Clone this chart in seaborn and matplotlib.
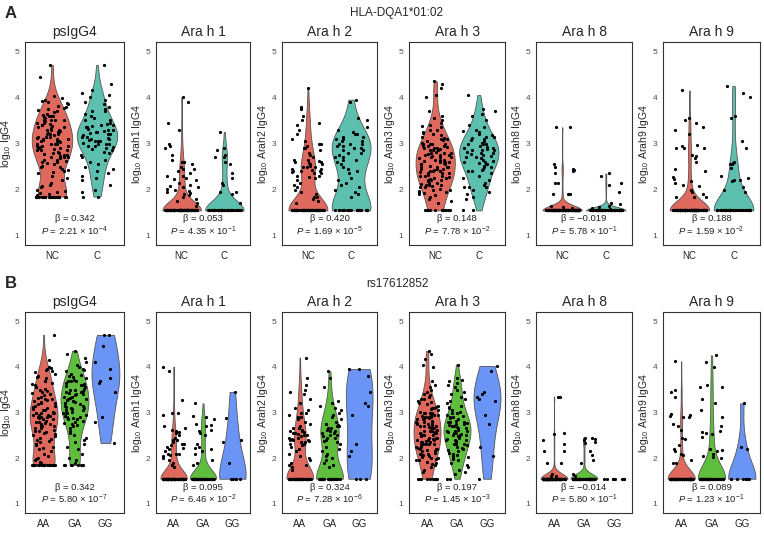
import numpy as np
import pandas as pd
import matplotlib
matplotlib.use("Agg")
import matplotlib.pyplot as plt
import seaborn as sns

# ---------------- DATA ----------------
cats_a = ["NC", "C"]
cats_b = ["AA", "GA", "GG"]
titles = ["psIgG4", "Ara h 1", "Ara h 2", "Ara h 3", "Ara h 8", "Ara h 9"]
ylabels = ["log$_{10}$ IgG4", "log$_{10}$ Arah1 IgG4", "log$_{10}$ Arah2 IgG4",
           "log$_{10}$ Arah3 IgG4", "log$_{10}$ Arah8 IgG4", "log$_{10}$ Arah9 IgG4"]
betas_a = ["0.342", "0.053", "0.420", "0.148", "\u22120.019", "0.188"]
pvals_a = [("2.21", "-4"), ("4.35", "-1"), ("1.69", "-5"), ("7.78", "-2"), ("5.78", "-1"), ("1.59", "-2")]
betas_b = ["0.342", "0.095", "0.324", "0.197", "\u22120.014", "0.089"]
pvals_b = [("5.80", "-7"), ("6.46", "-2"), ("7.28", "-6"), ("1.45", "-3"), ("5.80", "-1"), ("1.23", "-1")]

# Row A: HLA-DQA1*01:02
a_ps_nc = [1.85] * 22 + [4.70, 4.45, 4.02, 3.98, 3.95, 3.92, 3.90, 3.88, 3.85, 3.82, 3.80, 3.78, 3.75, 3.72, 3.70, 3.68,
    3.65, 3.62, 3.60, 3.60, 3.58, 3.55, 3.52, 3.50, 3.50, 3.48, 3.45, 3.42, 3.40, 3.40, 3.38, 3.35, 3.33, 3.30, 3.30,
    3.28, 3.25, 3.25, 3.22, 3.20, 3.20, 3.18, 3.15, 3.15, 3.12, 3.10, 3.10, 3.08, 3.05, 3.05, 3.03, 3.00, 3.00, 2.98,
    2.95, 2.95, 2.93, 2.90, 2.90, 2.88, 2.85, 2.85, 2.82, 2.80, 2.80, 2.78, 2.75, 2.75, 2.72, 2.70, 2.70, 2.68, 2.65,
    2.62, 2.60, 2.58, 2.55, 2.52, 2.50, 2.48, 2.45, 2.42, 2.40, 2.38, 2.35, 2.30, 2.25, 2.20, 2.15, 2.10, 2.08, 2.05,
    2.00, 1.98, 1.95, 1.92, 1.90, 1.88, 2.60, 2.90, 3.10, 3.30, 3.50, 3.00, 2.70, 3.20, 2.85, 3.45, 3.15, 2.95, 3.60,
    3.35, 3.05, 2.65]
a_ps_c = [4.70, 4.30, 4.15, 4.10, 4.05, 4.00, 3.95, 3.90, 3.85, 3.80, 3.75, 3.70, 3.70, 3.65, 3.60, 3.55, 3.50, 3.50,
    3.45, 3.42, 3.40, 3.38, 3.35, 3.32, 3.30, 3.30, 3.28, 3.25, 3.22, 3.20, 3.20, 3.18, 3.15, 3.12, 3.10, 3.10, 3.08,
    3.05, 3.05, 3.02, 3.00, 3.00, 2.98, 2.95, 2.92, 2.90, 2.88, 2.85, 2.82, 2.80, 2.75, 2.70, 2.65, 2.60, 2.55, 2.50,
    2.45, 2.40, 2.35, 2.30, 2.25, 2.20, 2.10, 2.00, 1.95, 1.85, 1.85, 3.15, 3.35, 2.95, 3.25, 3.05, 3.40]
a_h1_nc = [1.55] * 100 + [4.00, 3.90, 3.45, 3.30, 3.00, 2.95, 2.90, 2.75, 2.65, 2.60, 2.60, 2.55, 2.50, 2.45, 2.40,
    2.35, 2.30, 2.25, 2.22, 2.20, 2.10, 2.08, 2.05, 2.05, 2.02, 2.00, 1.98, 1.95, 1.92, 1.90, 1.88, 1.85, 1.80, 1.75,
    2.60, 2.30, 2.45, 2.15, 1.70, 1.65]
a_h1_c = [1.55] * 45 + [3.25, 2.90, 2.85, 2.75, 2.70, 2.70, 2.60, 2.55, 2.35, 2.25, 2.15, 2.10, 1.95, 1.95, 1.90, 1.70]
a_h2_nc = [1.55] * 70 + [4.20, 3.75, 3.60, 3.50, 3.45, 3.40, 3.30, 3.20, 3.10, 3.05, 3.00, 3.00, 2.95, 2.90, 2.85,
    2.80, 2.75, 2.70, 2.65, 2.62, 2.60, 2.58, 2.55, 2.52, 2.50, 2.48, 2.45, 2.42, 2.40, 2.40, 2.38, 2.35, 2.35, 2.30,
    2.28, 2.25, 2.20, 2.15, 2.10, 2.05, 2.00, 1.95, 1.90, 1.85, 1.85, 1.80, 1.75, 1.70, 2.55, 2.45, 2.65, 2.30, 2.50,
    2.40, 3.80, 2.90, 2.60]
a_h2_c = [1.55] * 22 + [3.95, 3.90, 3.55, 3.50, 3.30, 3.25, 3.20, 3.20, 3.15, 3.15, 3.10, 3.05, 3.00, 3.00, 2.98,
    2.95, 2.90, 2.90, 2.85, 2.80, 2.80, 2.75, 2.70, 2.70, 2.65, 2.60, 2.55, 2.50, 2.45, 2.40, 2.35, 2.25, 2.20, 2.15,
    2.10, 2.05, 2.00, 1.95, 1.90, 1.85, 3.10, 2.95, 3.05, 2.85, 2.65, 3.35]
a_h3_nc = [1.55] * 12 + [4.35, 4.30, 4.20, 4.05, 4.00, 3.70, 3.60, 3.55, 3.50, 3.45, 3.40, 3.38, 3.35, 3.30, 3.30,
    3.25, 3.22, 3.20, 3.18, 3.15, 3.12, 3.10, 3.10, 3.08, 3.05, 3.02, 3.00, 3.00, 2.98, 2.95, 2.95, 2.92, 2.90, 2.90,
    2.88, 2.85, 2.85, 2.82, 2.80, 2.80, 2.78, 2.75, 2.75, 2.72, 2.70, 2.70, 2.68, 2.65, 2.65, 2.62, 2.60, 2.60, 2.58,
    2.55, 2.55, 2.52, 2.50, 2.50, 2.48, 2.45, 2.45, 2.42, 2.40, 2.40, 2.38, 2.35, 2.35, 2.32, 2.30, 2.30, 2.28, 2.25,
    2.25, 2.22, 2.20, 2.20, 2.18, 2.15, 2.15, 2.12, 2.10, 2.10, 2.08, 2.05, 2.05, 2.02, 2.00, 2.00, 1.98, 1.95, 1.95,
    1.92, 1.90, 1.88, 1.85, 1.80, 1.75, 1.70, 2.60, 2.50, 2.40, 2.70, 2.30, 2.80, 2.20, 2.90, 2.55, 2.45, 2.65, 2.35,
    2.75, 2.10, 3.00, 2.85, 2.95]
a_h3_c = [4.05, 3.75, 3.70, 3.65, 3.60, 3.50, 3.40, 3.35, 3.30, 3.28, 3.25, 3.20, 3.18, 3.15, 3.12, 3.10, 3.08, 3.05,
    3.02, 3.00, 3.00, 2.98, 2.95, 2.92, 2.90, 2.88, 2.85, 2.85, 2.82, 2.80, 2.80, 2.78, 2.75, 2.72, 2.70, 2.68, 2.65,
    2.62, 2.60, 2.58, 2.55, 2.52, 2.50, 2.48, 2.45, 2.42, 2.40, 2.35, 2.30, 2.25, 2.20, 2.15, 2.10, 2.05, 2.05, 2.00,
    1.95, 1.90, 1.85, 1.80, 1.55, 1.55, 2.60, 2.70, 2.85, 2.90, 2.55, 3.15, 2.40, 2.05]
a_h8_nc = [1.55] * 140 + [3.35, 3.35, 2.55, 2.50, 2.45, 2.42, 2.40, 2.35, 2.15, 2.15, 1.90, 1.90, 1.90, 1.60, 1.62,
    1.65]
a_h8_c = [1.55] * 72 + [2.35, 2.30, 2.15, 2.10, 1.95, 1.58, 1.60, 1.62, 1.65, 1.68, 1.70]
a_h9_nc = [1.55] * 110 + [4.15, 3.55, 3.50, 3.45, 3.35, 3.30, 3.20, 2.97, 2.95, 2.90, 2.90, 2.90, 2.75, 2.72, 2.68,
    2.45, 2.40, 2.28, 2.22, 2.18, 2.15, 2.10, 2.08, 2.00, 1.95, 1.90, 1.85, 1.85, 1.85, 2.60]
a_h9_c = [1.55] * 45 + [4.25, 4.10, 4.00, 3.60, 3.55, 3.05, 2.90, 2.60, 2.58, 2.55, 2.55, 2.47, 2.30, 2.25, 2.20,
    2.20, 2.18, 2.05, 2.00, 1.95]

# Row B: rs17612852
b_ps_aa = [1.85] * 22 + [4.70, 4.15, 4.00, 3.98, 3.95, 3.92, 3.90, 3.88, 3.85, 3.80, 3.78, 3.75, 3.70, 3.68, 3.65,
    3.62, 3.60, 3.55, 3.52, 3.50, 3.48, 3.45, 3.42, 3.40, 3.38, 3.35, 3.32, 3.30, 3.28, 3.25, 3.22, 3.20, 3.18, 3.15,
    3.12, 3.10, 3.08, 3.05, 3.02, 3.00, 3.00, 2.98, 2.95, 2.95, 2.92, 2.90, 2.90, 2.88, 2.85, 2.85, 2.82, 2.80, 2.80,
    2.78, 2.75, 2.72, 2.70, 2.70, 2.68, 2.65, 2.62, 2.60, 2.58, 2.55, 2.52, 2.50, 2.48, 2.45, 2.42, 2.40, 2.38, 2.35,
    2.32, 2.30, 2.28, 2.25, 2.22, 2.20, 2.15, 2.10, 2.05, 2.00, 1.98, 1.95, 1.92, 1.90, 3.10, 3.20, 2.90, 3.00, 2.75,
    3.30, 2.60, 3.40, 2.85, 3.05, 2.95, 3.15, 2.65, 3.55]
b_ps_ga = [1.85] * 8 + [4.35, 4.28, 4.20, 4.10, 4.05, 4.00, 3.95, 3.92, 3.90, 3.85, 3.82, 3.80, 3.78, 3.75, 3.72,
    3.70, 3.68, 3.65, 3.62, 3.60, 3.58, 3.55, 3.52, 3.50, 3.48, 3.45, 3.42, 3.40, 3.38, 3.35, 3.32, 3.30, 3.28, 3.25,
    3.22, 3.20, 3.18, 3.15, 3.12, 3.10, 3.08, 3.05, 3.02, 3.00, 2.98, 2.95, 2.92, 2.90, 2.88, 2.85, 2.82, 2.80, 2.78,
    2.75, 2.72, 2.70, 2.65, 2.60, 2.55, 2.50, 2.45, 2.40, 2.35, 2.30, 2.25, 2.20, 2.10, 2.00, 1.95, 1.90, 3.20, 3.30,
    3.10, 3.40, 3.00, 3.50, 3.25, 3.15, 3.35, 3.05, 2.90, 3.60, 3.45, 2.85, 3.70]
b_ps_gg = [4.70, 4.70, 4.45, 4.10, 3.95, 3.75, 3.70, 3.65, 3.45, 2.90, 2.80, 2.33]
b_h1_aa = [1.55] * 85 + [4.00, 3.90, 3.28, 3.00, 2.98, 2.95, 2.70, 2.65, 2.62, 2.60, 2.58, 2.55, 2.50, 2.45, 2.40,
    2.35, 2.32, 2.30, 2.28, 2.25, 2.22, 2.20, 2.10, 2.10, 2.10, 2.08, 2.05, 2.00, 1.95, 1.90, 1.85, 1.85, 1.80, 2.15,
    2.40]
b_h1_ga = [1.55] * 55 + [3.20, 2.92, 2.90, 2.85, 2.75, 2.72, 2.70, 2.62, 2.60, 2.55, 2.50, 2.30, 2.25, 2.22, 2.20,
    2.15, 2.10, 1.95, 1.90, 1.85]
b_h1_gg = [1.55] * 6 + [3.45, 2.88, 2.40, 2.35, 1.90]
b_h2_aa = [1.55] * 60 + [4.20, 3.75, 3.60, 3.50, 3.45, 3.40, 3.30, 3.20, 3.10, 3.05, 3.00, 3.00, 2.95, 2.90, 2.85,
    2.80, 2.75, 2.70, 2.65, 2.62, 2.60, 2.58, 2.55, 2.52, 2.50, 2.48, 2.45, 2.42, 2.40, 2.40, 2.38, 2.35, 2.35, 2.30,
    2.28, 2.25, 2.20, 2.15, 2.10, 2.05, 2.00, 1.95, 1.90, 1.85, 1.85, 1.80, 1.75, 2.55, 2.45, 2.65, 2.30, 2.50, 2.40,
    2.90, 2.60]
b_h2_ga = [1.55] * 32 + [3.90, 3.75, 3.55, 3.25, 3.20, 3.15, 3.10, 3.05, 3.00, 2.95, 2.90, 2.85, 2.80, 2.75, 2.72,
    2.70, 2.65, 2.62, 2.60, 2.55, 2.50, 2.48, 2.45, 2.40, 2.38, 2.35, 2.30, 2.25, 2.20, 2.15, 2.10, 2.05, 2.00, 1.95,
    1.90, 1.85, 1.80, 2.55, 2.65, 2.45, 2.50, 2.70, 2.60, 2.75]
b_h2_gg = [3.95, 3.95, 3.80, 3.45, 3.20, 3.15, 2.95, 2.30, 2.15, 2.05, 1.55, 1.55, 1.55]
b_h3_aa = [1.55] * 10 + [4.35, 4.28, 4.18, 4.05, 4.00, 3.70, 3.60, 3.55, 3.50, 3.45, 3.40, 3.38, 3.35, 3.30, 3.30,
    3.25, 3.22, 3.20, 3.18, 3.15, 3.12, 3.10, 3.10, 3.08, 3.05, 3.02, 3.00, 3.00, 2.98, 2.95, 2.95, 2.92, 2.90, 2.90,
    2.88, 2.85, 2.85, 2.82, 2.80, 2.80, 2.78, 2.75, 2.75, 2.72, 2.70, 2.70, 2.68, 2.65, 2.65, 2.62, 2.60, 2.60, 2.58,
    2.55, 2.55, 2.52, 2.50, 2.50, 2.48, 2.45, 2.45, 2.42, 2.40, 2.40, 2.38, 2.35, 2.35, 2.32, 2.30, 2.30, 2.28, 2.25,
    2.25, 2.22, 2.20, 2.20, 2.18, 2.15, 2.15, 2.12, 2.10, 2.10, 2.08, 2.05, 2.05, 2.02, 2.00, 2.00, 1.98, 1.95, 1.95,
    1.92, 1.90, 1.88, 1.85, 1.80, 1.75, 1.70, 2.60, 2.50, 2.40, 2.70, 2.30, 2.80, 2.20, 2.90, 2.55, 2.45, 2.65, 2.35,
    2.75, 2.10, 3.00, 2.85, 2.95]
b_h3_ga = [4.05, 3.75, 3.72, 3.70, 3.65, 3.60, 3.55, 3.50, 3.45, 3.40, 3.35, 3.30, 3.25, 3.20, 3.15, 3.12, 3.10, 3.05,
    3.02, 3.00, 2.98, 2.95, 2.92, 2.90, 2.88, 2.85, 2.82, 2.80, 2.80, 2.78, 2.75, 2.72, 2.70, 2.70, 2.68, 2.65, 2.62,
    2.60, 2.60, 2.58, 2.55, 2.52, 2.50, 2.50, 2.48, 2.45, 2.42, 2.40, 2.40, 2.38, 2.35, 2.32, 2.30, 2.28, 2.25, 2.22,
    2.20, 2.18, 2.15, 2.12, 2.10, 2.08, 2.05, 2.02, 2.00, 1.98, 1.95, 1.90, 1.85, 1.80, 1.75, 1.70, 1.65, 2.60, 2.70,
    2.50, 2.80, 2.40, 2.90, 2.30, 2.65, 2.75, 2.55, 1.55, 1.55]
b_h3_gg = [4.02, 3.90, 3.45, 3.40, 3.35, 3.30, 3.25, 2.95, 2.75, 2.25, 2.05, 1.55]
b_h8_aa = [1.55] * 120 + [3.35, 3.35, 2.55, 2.52, 2.40, 2.32, 2.15, 2.15, 1.90, 1.90, 1.60, 1.62, 1.65]
b_h8_ga = [1.55] * 70 + [2.45, 2.45, 2.42, 2.40, 2.35, 2.33, 2.15, 2.08, 1.95, 1.90, 1.60, 1.65]
b_h8_gg = [1.55] * 8
b_h9_aa = [1.55] * 95 + [4.12, 3.50, 3.45, 3.35, 2.97, 2.95, 2.92, 2.90, 2.90, 2.75, 2.70, 2.45, 2.42, 2.28, 2.20,
    2.15, 2.10, 2.08, 1.95, 1.90, 1.90, 2.62]
b_h9_ga = [1.55] * 60 + [4.25, 4.10, 4.00, 3.60, 3.55, 3.55, 3.30, 3.05, 2.90, 2.60, 2.57, 2.55, 2.52, 2.47, 2.20,
    2.18, 2.15, 2.10, 2.05, 2.02, 2.00, 2.70, 3.20]
b_h9_gg = [1.55] * 8 + [3.20, 2.25, 2.20]

row_a = [[a_ps_nc, a_ps_c], [a_h1_nc, a_h1_c], [a_h2_nc, a_h2_c],
         [a_h3_nc, a_h3_c], [a_h8_nc, a_h8_c], [a_h9_nc, a_h9_c]]
row_b = [[b_ps_aa, b_ps_ga, b_ps_gg], [b_h1_aa, b_h1_ga, b_h1_gg], [b_h2_aa, b_h2_ga, b_h2_gg],
         [b_h3_aa, b_h3_ga, b_h3_gg], [b_h8_aa, b_h8_ga, b_h8_gg], [b_h9_aa, b_h9_ga, b_h9_gg]]

# ---------------- STYLE ----------------
sns.set_style("white")
plt.rcParams["font.family"] = ["Liberation Sans", "DejaVu Sans"]
plt.rcParams["mathtext.fontset"] = "custom"
plt.rcParams["mathtext.rm"] = "Liberation Sans"
plt.rcParams["mathtext.it"] = "Liberation Sans:italic"
plt.rcParams["mathtext.bf"] = "Liberation Sans:bold"

pal_a = {"NC": "#E0695E", "C": "#5DC0AE"}
pal_b = {"AA": "#E0695E", "GA": "#5FBE3E", "GG": "#6A94F5"}

W, H = 764, 554
fig = plt.figure(figsize=(W / 100, H / 100), dpi=100)
fig.patch.set_facecolor("white")

lefts = [25, 156, 282, 409, 536, 663]
widths = [99, 94, 95, 96, 96, 97]
np.random.seed(3)


def draw_row(rows, cats, pal, top_px, bot_px, betas, pvals):
    for i, groups in enumerate(rows):
        ax = fig.add_axes([lefts[i] / W, 1 - bot_px / H, widths[i] / W, (bot_px - top_px) / H])
        recs = []
        for g, vals in zip(cats, groups):
            for v in vals:
                recs.append((g, v))
        df = pd.DataFrame(recs, columns=["group", "value"])
        # violins only for groups with variation
        keep = [g for g, vals in zip(cats, groups) if len(set(vals)) > 1]
        dfv = df[df["group"].isin(keep)]
        sns.violinplot(data=dfv, x="group", y="value", hue="group", order=cats, hue_order=cats,
                       palette=pal, inner=None, cut=0, width=0.9, bw_adjust=1.05,
                       linewidth=0.6, linecolor="#555555", saturation=1, legend=False, ax=ax)
        sns.stripplot(data=df, x="group", y="value", order=cats, color="black", size=2.3,
                      jitter=0.38, linewidth=0, ax=ax, zorder=3)
        n = len(cats)
        ax.set_xlim(-0.6, n - 0.4)
        ax.set_ylim(0.8, 5.2)
        ax.set_yticks([1, 2, 3, 4, 5])
        ax.set_xlabel("")
        ax.set_ylabel(ylabels[i], fontsize=7.5, labelpad=1)
        ax.set_title(titles[i], fontsize=10, pad=4)
        for s in ax.spines.values():
            s.set_color("#333333")
            s.set_linewidth(0.8)
        ax.tick_params(axis="both", length=2.5, width=0.6, color="#333333", pad=1.5)
        ax.tick_params(axis="y", labelsize=6, labelcolor="#4d4d4d")
        ax.tick_params(axis="x", labelsize=7, labelcolor="#222222")
        xc = (n - 1) / 2
        ax.text(xc, 1.31, "\u03b2 = " + betas[i], ha="center", va="baseline", fontsize=6.8, color="#222222")
        m, e = pvals[i]
        ax.text(xc, 1.02, "$\\mathit{P}$ = " + m + " \u00d7 10$^{" + e + "}$", ha="center", va="baseline",
                fontsize=6.8, color="#222222")


draw_row(row_a, cats_a, pal_a, 42, 245, betas_a, pvals_a)
draw_row(row_b, cats_b, pal_b, 312, 513, betas_b, pvals_b)

fig.text(5 / W, 1 - 14 / H, "A", fontsize=12, fontweight="bold", va="center", ha="left")
fig.text(5 / W, 1 - 284 / H, "B", fontsize=12, fontweight="bold", va="center", ha="left")
fig.text(396 / W, 1 - 13 / H, "HLA-DQA1*01:02", fontsize=8.5, va="center", ha="center")
fig.text(397 / W, 1 - 284 / H, "rs17612852", fontsize=8.5, va="center", ha="center")

fig.savefig("out.png", dpi=100, facecolor="white")
